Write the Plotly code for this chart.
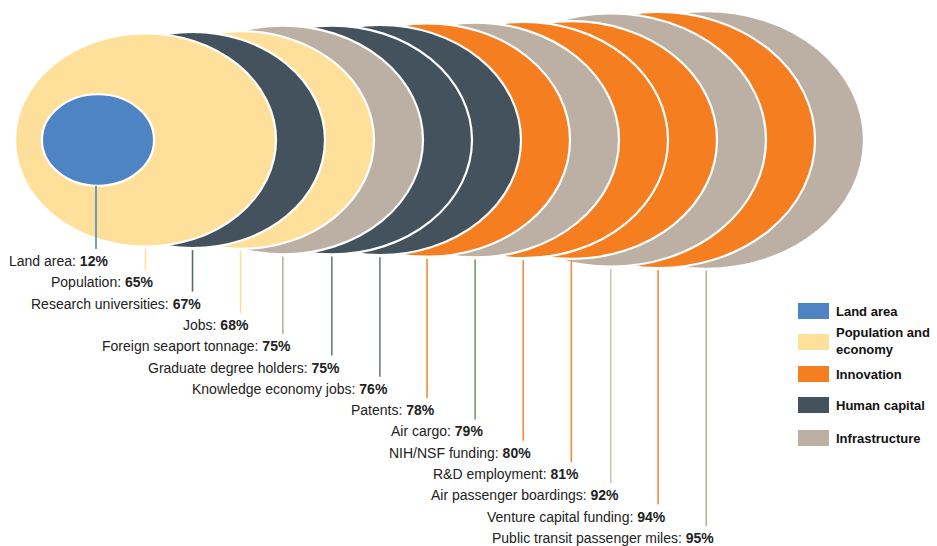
import plotly.graph_objects as go
import math

# ---- data ----
labels = ["Population", "Research universities", "Jobs", "Foreign seaport tonnage",
          "Graduate degree holders", "Knowledge economy jobs", "Patents", "Air cargo",
          "NIH/NSF funding", "R&D employment", "Air passenger boardings",
          "Venture capital funding", "Public transit passenger miles"]
values = [65, 67, 68, 75, 75, 76, 78, 79, 80, 81, 92, 94, 95]
groups = ["Population and economy", "Human capital", "Population and economy", "Infrastructure",
          "Human capital", "Human capital", "Innovation", "Infrastructure",
          "Innovation", "Innovation", "Infrastructure", "Innovation", "Infrastructure"]
land_label = "Land area"
land_value = 12

legend_items = ["Land area", "Population and<br>economy", "Innovation", "Human capital", "Infrastructure"]
legend_keys = ["Land area", "Population and economy", "Innovation", "Human capital", "Infrastructure"]

# ---- style ----
colors = {
    "Land area": "#4F84C4",
    "Population and economy": "#FEE09B",
    "Innovation": "#F47E20",
    "Human capital": "#43525D",
    "Infrastructure": "#BCB0A5",
}
leader_colors = ["#FEE09B", "#5A6872", "#FEE09B", "#BCB0A5", "#6F7C86", "#6F7C86", "#F58A3A",
                 "#6E9E62", "#F58A3A", "#F58A3A", "#C9C4BE", "#F58A3A", "#BCB0A5"]

W, H = 937, 546
cy = 140
base_w, base_h, base_v = 261.0, 213.0, 65.0
right0, step = 276.0, 49.0
label_y0, label_dy = 261.0, 21.3

shapes = []
annotations = []

geo = []
for i, v in enumerate(values):
    s = math.sqrt(v / base_v)
    w, h = base_w * s, base_h * s
    r = right0 + i * step
    geo.append((r - w, r, cy - h / 2, cy + h / 2))

# ellipses back to front
for i in reversed(range(len(values))):
    x0, x1, y0, y1 = geo[i]
    shapes.append(dict(type="circle", xref="x", yref="y", x0=x0, x1=x1, y0=y0, y1=y1,
                       fillcolor=colors[groups[i]], line=dict(color="white", width=2.2),
                       layer="above"))

# land area ellipse
s = math.sqrt(land_value / base_v)
lw, lh = base_w * s, base_h * s
front_left = geo[0][0]
lcx = front_left + 83
shapes.append(dict(type="circle", xref="x", yref="y", x0=lcx - lw / 2, x1=lcx + lw / 2,
                   y0=cy - lh / 2, y1=cy + lh / 2, fillcolor=colors["Land area"],
                   line=dict(color="white", width=2.2), layer="above"))

font = dict(family="Liberation Sans, Arial, sans-serif", size=14, color="#222222")

# land leader and label
ly = label_y0
shapes.append(dict(type="line", xref="x", yref="y", x0=lcx - 2, x1=lcx - 2, y0=cy + lh / 2,
                   y1=ly - 12, line=dict(color="#4F84C4", width=1.6)))
annotations.append(dict(x=lcx + 12, y=ly, xref="x", yref="y", xanchor="right", yanchor="middle",
                        text=f"{land_label}: <b>{land_value}%</b>", showarrow=False, font=font))

for i, (lab, v) in enumerate(zip(labels, values)):
    x0, x1, y0, y1 = geo[i]
    cx = (x0 + x1) / 2
    yl = label_y0 + (i + 1) * label_dy
    shapes.append(dict(type="line", xref="x", yref="y", x0=cx, x1=cx, y0=y1 + 2, y1=yl - 12,
                       line=dict(color=leader_colors[i], width=1.6)))
    annotations.append(dict(x=cx + 10, y=yl, xref="x", yref="y", xanchor="right", yanchor="middle",
                            text=f"{lab}: <b>{v}%</b>", showarrow=False, font=font))

# legend
leg_y = [311, 342, 374, 405, 438]
for key, txt, yy in zip(legend_keys, legend_items, leg_y):
    shapes.append(dict(type="rect", xref="x", yref="y", x0=798, x1=829, y0=yy - 8, y1=yy + 8,
                       fillcolor=colors[key], line=dict(width=0)))
    annotations.append(dict(x=834, y=yy if "<br>" not in txt else yy - 1, xref="x", yref="y",
                            xanchor="left", yanchor="middle", align="left",
                            text=f"<b>{txt}</b>", showarrow=False,
                            font=dict(family="Liberation Sans, Arial, sans-serif", size=13,
                                      color="#111111")))

fig = go.Figure()
fig.add_trace(go.Scatter(x=[0], y=[0], mode="markers", marker=dict(opacity=0), hoverinfo="skip",
                         showlegend=False))
fig.update_layout(
    width=W, height=H, margin=dict(l=0, r=0, t=0, b=0),
    paper_bgcolor="white", plot_bgcolor="white",
    xaxis=dict(range=[0, W], visible=False, fixedrange=True),
    yaxis=dict(range=[H, 0], visible=False, fixedrange=True),
    shapes=shapes, annotations=annotations, showlegend=False,
)
fig.write_html("out.html")
